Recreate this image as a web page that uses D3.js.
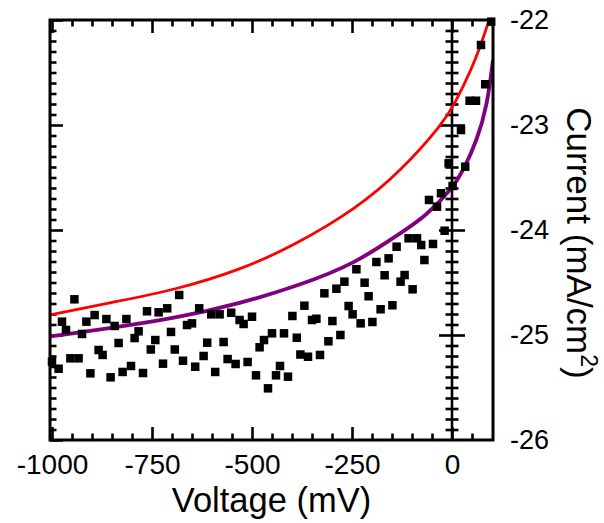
<!DOCTYPE html>
<html>
<head>
<meta charset="utf-8">
<script src="https://cdn.jsdelivr.net/npm/d3@7"></script>
<style>
  html, body { margin: 0; padding: 0; background: #fff; }
  svg text { font-family: "Liberation Sans", Arial, sans-serif; fill: #000; }
</style>
</head>
<body>
<svg id="chart" width="604" height="523"></svg>
<script>
// ---- data ----
const dataVoltage = [
  -1000, -983.5, -975, -965, -954, -944, -933.5, -925, -914, -904,
  -893.5, -883.5, -873.5, -864, -853.5, -843.5, -833.5, -823.5, -814, -802.5,
  -793.5, -783.5, -772.5, -762.5, -753, -741.75, -733.5, -722.5, -712, -702.5,
  -693, -682, -672.5, -662.5, -650, -642, -632, -621, -612, -602,
  -592, -581, -571, -561, -552, -541, -531, -521, -511, -500,
  -490, -481, -470, -460, -450, -440, -430, -420, -410, -399,
  -388, -379, -369, -360, -350, -339, -330, -319, -309, -299,
  -289, -279, -269, -258.5, -248.5, -239, -228.5, -218.5, -208.5, -199,
  -189, -178.5, -168.5, -158.5, -149, -138.5, -128.5, -118.5, -108.5, -98.5,
  -87.5, -77, -69, -57.5, -47.5, -37.5, -27.5, -18.5, -8.5, 1.5,
  22.5, 33, 44, 60, 72.5, 83, 98
];
const dataCurrent = [
  -25.254, -25.321, -24.873, -24.952, -25.222, -24.660, -25.222, -24.990, -24.873, -25.365,
  -24.810, -25.143, -25.190, -24.848, -25.403, -24.914, -25.076, -25.352, -24.848, -25.295,
  -25.029, -24.965, -25.362, -24.774, -25.138, -25.048, -24.784, -25.273, -24.746, -24.971,
  -25.138, -24.619, -25.245, -24.905, -24.889, -25.302, -24.746, -25.200, -25.073, -24.803,
  -25.352, -24.803, -25.067, -25.229, -24.788, -25.276, -24.857, -24.895, -25.257, -24.826,
  -25.384, -25.117, -25.048, -25.508, -24.984, -25.384, -25.295, -24.984, -25.397, -24.819,
  -25.026, -25.186, -24.721, -25.207, -24.857, -24.845, -25.190, -24.603, -25.060, -24.867,
  -24.559, -25.000, -24.492, -24.724, -24.803, -24.374, -24.889, -24.502, -24.631, -24.876,
  -24.305, -24.755, -24.431, -24.270, -24.717, -24.159, -24.492, -24.429, -24.079, -24.565,
  -24.079, -24.143, -24.286, -23.714, -24.133, -23.778, -23.650, -24.007, -23.365, -23.581,
  -23.048, -23.397, -22.769, -22.769, -22.238, -22.612, -22.016
];

const redVoltage = [-1005, -854, -692, -529, -392, -237, -129, -22, 8, 51, 71, 93, 102.5];
const redCurrent = [-24.81, -24.692, -24.571, -24.381, -24.143, -23.79, -23.444, -22.981, -22.79, -22.448, -22.25, -22.0, -21.88];

const purpleVoltage = [-1005, -854, -692, -529, -379, -242, -129, -67, 1, 29, 62.5, 87.5, 102.5];
const purpleCurrent = [-25.014, -24.935, -24.841, -24.70, -24.524, -24.32, -24.03, -23.873, -23.603, -23.429, -23.143, -22.826, -22.381];

const xMajorTicks = [-1000, -750, -500, -250, 0];
const xMajorLabels = ["-1000", "-750", "-500", "-250", "0"];
const xMinorTicks = [-950, -900, -850, -800, -700, -650, -600, -550, -450, -400, -350, -300, -200, -150, -100, -50, 50];
const yMajorTicks = [-22, -23, -24, -25, -26];
const yMajorLabels = ["-22", "-23", "-24", "-25", "-26"];
const yMinorTicks = [
  -22.1, -22.2, -22.3, -22.4, -22.5, -22.6, -22.7, -22.8, -22.9,
  -23.1, -23.2, -23.3, -23.4, -23.5, -23.6, -23.7, -23.8, -23.9,
  -24.1, -24.2, -24.3, -24.4, -24.5, -24.6, -24.7, -24.8, -24.9,
  -25.1, -25.2, -25.3, -25.4, -25.5, -25.6, -25.7, -25.8, -25.9
];

// ---- layout ----
const pLeft = 50, pRight = 493, pTop = 20, pBottom = 440;
const svg = d3.select("#chart");
const x = d3.scaleLinear().domain([-1005, 102.5]).range([pLeft, pRight]);
const y = d3.scaleLinear().domain([-26, -22]).range([pBottom, pTop]);

svg.append("defs").append("clipPath").attr("id", "clip")
  .append("rect").attr("x", pLeft).attr("y", pTop).attr("width", pRight - pLeft).attr("height", pBottom - pTop);

function styleAxis(g, w) {
  g.select(".domain").remove();
  g.selectAll(".tick line").attr("stroke", "#000").attr("stroke-width", w);
}

// bottom axis (ticks inward = up)
const gb = svg.append("g").attr("transform", `translate(0,${pBottom})`)
  .call(d3.axisBottom(x).tickValues(xMajorTicks).tickSizeInner(-13).tickSizeOuter(0).tickPadding(14)
    .tickFormat((d, i) => xMajorLabels[i]));
styleAxis(gb, 2.6);
gb.selectAll("text").attr("font-size", 28).attr("fill", "#000")
  .attr("font-family", '"Liberation Sans", Arial, sans-serif');
const gbm = svg.append("g").attr("transform", `translate(0,${pBottom})`)
  .call(d3.axisBottom(x).tickValues(xMinorTicks).tickSizeInner(-6.5).tickSizeOuter(0).tickFormat(""));
styleAxis(gbm, 2.6);

// top axis (ticks inward = down)
const gt = svg.append("g").attr("transform", `translate(0,${pTop})`)
  .call(d3.axisTop(x).tickValues(xMajorTicks).tickSizeInner(-13).tickSizeOuter(0).tickFormat(""));
styleAxis(gt, 2.6);
const gtm = svg.append("g").attr("transform", `translate(0,${pTop})`)
  .call(d3.axisTop(x).tickValues(xMinorTicks).tickSizeInner(-6.5).tickSizeOuter(0).tickFormat(""));
styleAxis(gtm, 2.6);

// left axis ticks (inward = right)
const gl = svg.append("g").attr("transform", `translate(${pLeft},0)`)
  .call(d3.axisRight(y).tickValues(yMajorTicks).tickSizeInner(13).tickSizeOuter(0).tickFormat(""));
styleAxis(gl, 2.6);
const glm = svg.append("g").attr("transform", `translate(${pLeft},0)`)
  .call(d3.axisRight(y).tickValues(yMinorTicks).tickSizeInner(6.5).tickSizeOuter(0).tickFormat(""));
styleAxis(glm, 2.6);

// zero line with crossing ticks
const x0 = x(0);
const gz = svg.append("g").attr("transform", `translate(${x0 - 13},0)`)
  .call(d3.axisRight(y).tickValues(yMajorTicks.slice(1, 4)).tickSizeInner(26).tickSizeOuter(0).tickFormat(""));
styleAxis(gz, 2.6);
const gzm = svg.append("g").attr("transform", `translate(${x0 - 6.5},0)`)
  .call(d3.axisRight(y).tickValues(yMinorTicks).tickSizeInner(13).tickSizeOuter(0).tickFormat(""));
styleAxis(gzm, 2.6);
svg.append("line").attr("x1", x0).attr("x2", x0).attr("y1", pTop).attr("y2", pBottom)
  .attr("stroke", "#000").attr("stroke-width", 2.6);

// right axis labels
const gr = svg.append("g").attr("transform", `translate(${pRight},0)`)
  .call(d3.axisRight(y).tickValues(yMajorTicks).tickSize(0).tickPadding(17)
    .tickFormat((d, i) => yMajorLabels[i]));
gr.select(".domain").remove();
gr.selectAll("text").attr("font-size", 27).attr("fill", "#000")
  .attr("font-family", '"Liberation Sans", Arial, sans-serif');

// curves
const plot = svg.append("g").attr("clip-path", "url(#clip)");
const line = d3.line().x(d => x(d[0])).y(d => y(d[1])).curve(d3.curveBasis);
plot.append("path").datum(redVoltage.map((v, i) => [v, redCurrent[i]]))
  .attr("d", line).attr("fill", "none").attr("stroke", "#ff0000").attr("stroke-width", 2.8);
plot.append("path").datum(purpleVoltage.map((v, i) => [v, purpleCurrent[i]]))
  .attr("d", line).attr("fill", "none").attr("stroke", "#800080").attr("stroke-width", 3.8);

// data squares
const sz = 8.5;
svg.append("g").selectAll("rect").data(dataVoltage.map((v, i) => [v, dataCurrent[i]]))
  .join("rect")
  .attr("x", d => x(d[0]) - sz / 2).attr("y", d => y(d[1]) - sz / 2)
  .attr("width", sz).attr("height", sz).attr("fill", "#000");

// frame
svg.append("rect").attr("x", pLeft).attr("y", pTop).attr("width", pRight - pLeft).attr("height", pBottom - pTop)
  .attr("fill", "none").attr("stroke", "#000").attr("stroke-width", 3);

// axis titles
svg.append("text").attr("x", (pLeft + pRight) / 2).attr("y", 512).attr("text-anchor", "middle")
  .attr("font-size", 34.5).text("Voltage (mV)");
const yt = svg.append("text").attr("transform", `translate(567,243) rotate(90)`)
  .attr("text-anchor", "middle").attr("font-size", 35);
yt.append("tspan").text("Current (mA/cm");
yt.append("tspan").attr("font-size", 23).attr("dy", -14).text("2");
yt.append("tspan").attr("dy", 14).text(")");
</script>
</body>
</html>
